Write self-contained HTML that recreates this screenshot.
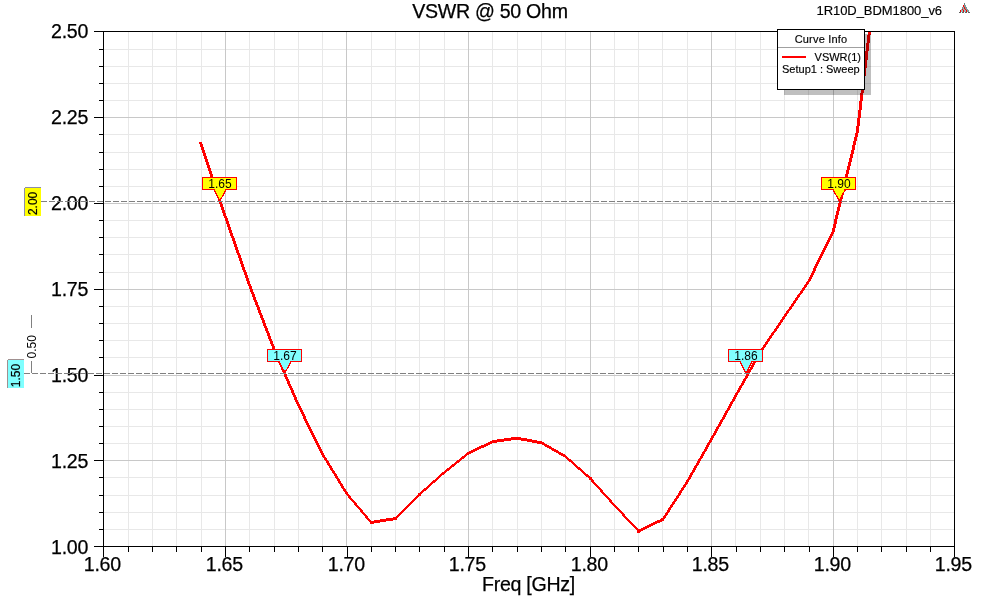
<!DOCTYPE html>
<html><head><meta charset="utf-8"><title>VSWR @ 50 Ohm</title>
<style>html,body{margin:0;padding:0;background:#fff;}body{width:982px;height:598px;overflow:hidden;font-family:"Liberation Sans",sans-serif;}svg{display:block;position:absolute;left:0;top:0;will-change:transform;}text{font-family:"Liberation Sans",sans-serif;}</style>
</head><body>
<svg width="982" height="598" viewBox="0 0 982 598">
<rect x="0" y="0" width="982" height="598" fill="#ffffff"/>
<defs><clipPath id="plotclip"><rect x="104" y="32" width="850" height="514"/></clipPath></defs>
<g shape-rendering="crispEdges">
<rect x="128" y="32" width="1" height="514" fill="#e8e8e8"/>
<rect x="152" y="32" width="1" height="514" fill="#e8e8e8"/>
<rect x="176" y="32" width="1" height="514" fill="#e8e8e8"/>
<rect x="201" y="32" width="1" height="514" fill="#e8e8e8"/>
<rect x="249" y="32" width="1" height="514" fill="#e8e8e8"/>
<rect x="274" y="32" width="1" height="514" fill="#e8e8e8"/>
<rect x="298" y="32" width="1" height="514" fill="#e8e8e8"/>
<rect x="322" y="32" width="1" height="514" fill="#e8e8e8"/>
<rect x="371" y="32" width="1" height="514" fill="#e8e8e8"/>
<rect x="395" y="32" width="1" height="514" fill="#e8e8e8"/>
<rect x="419" y="32" width="1" height="514" fill="#e8e8e8"/>
<rect x="444" y="32" width="1" height="514" fill="#e8e8e8"/>
<rect x="492" y="32" width="1" height="514" fill="#e8e8e8"/>
<rect x="517" y="32" width="1" height="514" fill="#e8e8e8"/>
<rect x="541" y="32" width="1" height="514" fill="#e8e8e8"/>
<rect x="565" y="32" width="1" height="514" fill="#e8e8e8"/>
<rect x="614" y="32" width="1" height="514" fill="#e8e8e8"/>
<rect x="638" y="32" width="1" height="514" fill="#e8e8e8"/>
<rect x="662" y="32" width="1" height="514" fill="#e8e8e8"/>
<rect x="687" y="32" width="1" height="514" fill="#e8e8e8"/>
<rect x="735" y="32" width="1" height="514" fill="#e8e8e8"/>
<rect x="760" y="32" width="1" height="514" fill="#e8e8e8"/>
<rect x="784" y="32" width="1" height="514" fill="#e8e8e8"/>
<rect x="808" y="32" width="1" height="514" fill="#e8e8e8"/>
<rect x="857" y="32" width="1" height="514" fill="#e8e8e8"/>
<rect x="881" y="32" width="1" height="514" fill="#e8e8e8"/>
<rect x="906" y="32" width="1" height="514" fill="#e8e8e8"/>
<rect x="930" y="32" width="1" height="514" fill="#e8e8e8"/>
<rect x="104" y="49" width="850" height="1" fill="#e8e8e8"/>
<rect x="104" y="66" width="850" height="1" fill="#e8e8e8"/>
<rect x="104" y="83" width="850" height="1" fill="#e8e8e8"/>
<rect x="104" y="100" width="850" height="1" fill="#e8e8e8"/>
<rect x="104" y="134" width="850" height="1" fill="#e8e8e8"/>
<rect x="104" y="152" width="850" height="1" fill="#e8e8e8"/>
<rect x="104" y="169" width="850" height="1" fill="#e8e8e8"/>
<rect x="104" y="186" width="850" height="1" fill="#e8e8e8"/>
<rect x="104" y="220" width="850" height="1" fill="#e8e8e8"/>
<rect x="104" y="237" width="850" height="1" fill="#e8e8e8"/>
<rect x="104" y="254" width="850" height="1" fill="#e8e8e8"/>
<rect x="104" y="272" width="850" height="1" fill="#e8e8e8"/>
<rect x="104" y="306" width="850" height="1" fill="#e8e8e8"/>
<rect x="104" y="323" width="850" height="1" fill="#e8e8e8"/>
<rect x="104" y="340" width="850" height="1" fill="#e8e8e8"/>
<rect x="104" y="357" width="850" height="1" fill="#e8e8e8"/>
<rect x="104" y="392" width="850" height="1" fill="#e8e8e8"/>
<rect x="104" y="409" width="850" height="1" fill="#e8e8e8"/>
<rect x="104" y="426" width="850" height="1" fill="#e8e8e8"/>
<rect x="104" y="443" width="850" height="1" fill="#e8e8e8"/>
<rect x="104" y="477" width="850" height="1" fill="#e8e8e8"/>
<rect x="104" y="495" width="850" height="1" fill="#e8e8e8"/>
<rect x="104" y="512" width="850" height="1" fill="#e8e8e8"/>
<rect x="104" y="529" width="850" height="1" fill="#e8e8e8"/>
<rect x="225" y="32" width="1" height="514" fill="#c8c8c8"/>
<rect x="346" y="32" width="1" height="514" fill="#c8c8c8"/>
<rect x="468" y="32" width="1" height="514" fill="#c8c8c8"/>
<rect x="590" y="32" width="1" height="514" fill="#c8c8c8"/>
<rect x="711" y="32" width="1" height="514" fill="#c8c8c8"/>
<rect x="833" y="32" width="1" height="514" fill="#c8c8c8"/>
<rect x="104" y="117" width="850" height="1" fill="#c8c8c8"/>
<rect x="104" y="203" width="850" height="1" fill="#c8c8c8"/>
<rect x="104" y="289" width="850" height="1" fill="#c8c8c8"/>
<rect x="104" y="375" width="850" height="1" fill="#c8c8c8"/>
<rect x="104" y="460" width="850" height="1" fill="#c8c8c8"/>
</g>
<g fill="#ff0000" shape-rendering="crispEdges" clip-path="url(#plotclip)">
<path d="M198.96 142.40L223.93 216.80L226.93 216.80L201.96 142.40Z"/>
<path d="M223.93 216.80L248.24 285.80L251.24 285.80L226.93 216.80Z"/>
<path d="M248.24 285.80L272.55 349.20L275.55 349.20L251.24 285.80Z"/>
<path d="M272.55 349.20L296.85 405.00L299.85 405.00L275.55 349.20Z"/>
<path d="M296.85 405.00L321.16 454.30L324.16 454.30L299.85 405.00Z"/>
<path d="M321.16 454.30L345.46 494.00L348.46 494.00L324.16 454.30Z"/>
<path d="M345.46 494.00L369.77 522.50L372.77 522.50L348.46 494.00Z"/>
<path d="M371.27 521.00L395.58 517.00L395.58 520.00L371.27 524.00Z"/>
<path d="M394.08 518.50L418.38 494.10L421.38 494.10L397.08 518.50Z"/>
<path d="M419.88 492.60L444.19 471.00L444.19 474.00L419.88 495.60Z"/>
<path d="M444.19 471.00L468.50 451.70L468.50 454.70L444.19 474.00Z"/>
<path d="M468.50 451.70L492.80 440.10L492.80 443.10L468.50 454.70Z"/>
<path d="M492.80 440.10L517.11 436.70L517.11 439.70L492.80 443.10Z"/>
<path d="M517.11 436.70L541.42 441.30L541.42 444.30L517.11 439.70Z"/>
<path d="M541.42 441.30L565.72 455.20L565.72 458.20L541.42 444.30Z"/>
<path d="M565.72 455.20L590.03 476.70L590.03 479.70L565.72 458.20Z"/>
<path d="M588.53 478.20L612.84 505.30L615.84 505.30L591.53 478.20Z"/>
<path d="M612.84 505.30L637.14 531.00L640.14 531.00L615.84 505.30Z"/>
<path d="M638.64 529.50L662.95 517.90L662.95 520.90L638.64 532.50Z"/>
<path d="M661.45 519.40L685.76 481.80L688.76 481.80L664.45 519.40Z"/>
<path d="M685.76 481.80L710.06 439.00L713.06 439.00L688.76 481.80Z"/>
<path d="M710.06 439.00L734.37 395.50L737.37 395.50L713.06 439.00Z"/>
<path d="M734.37 395.50L758.68 352.40L761.68 352.40L737.37 395.50Z"/>
<path d="M758.68 352.40L782.98 316.60L785.98 316.60L761.68 352.40Z"/>
<path d="M782.98 316.60L807.29 281.20L810.29 281.20L785.98 316.60Z"/>
<path d="M807.29 281.20L831.59 231.50L834.59 231.50L810.29 281.20Z"/>
<path d="M831.59 231.50L855.90 131.50L858.90 131.50L834.59 231.50Z"/>
<path d="M855.90 131.50L880.21 -71.00L883.21 -71.00L858.90 131.50Z"/>
<path d="M369.77 521.00h3v3h-3Z"/>
<path d="M394.08 517.00h3v3h-3Z"/>
<path d="M418.38 492.60h3v3h-3Z"/>
<path d="M588.53 476.70h3v3h-3Z"/>
<path d="M637.14 529.50h3v3h-3Z"/>
<path d="M661.45 517.90h3v3h-3Z"/>
</g>
<rect x="784" y="34" width="87" height="61" fill="#000" fill-opacity="0.25" shape-rendering="crispEdges"/>
<g shape-rendering="crispEdges" fill="#000">
<rect x="103" y="31" width="852" height="1"/>
<rect x="103" y="546" width="852" height="1"/>
<rect x="103" y="31" width="1" height="516"/>
<rect x="954" y="31" width="1" height="516"/>
<rect x="103" y="547" width="1" height="10"/>
<rect x="225" y="547" width="1" height="10"/>
<rect x="347" y="547" width="1" height="10"/>
<rect x="468" y="547" width="1" height="10"/>
<rect x="590" y="547" width="1" height="10"/>
<rect x="711" y="547" width="1" height="10"/>
<rect x="833" y="547" width="1" height="10"/>
<rect x="954" y="547" width="1" height="10"/>
<rect x="128" y="547" width="1" height="5"/>
<rect x="152" y="547" width="1" height="5"/>
<rect x="176" y="547" width="1" height="5"/>
<rect x="201" y="547" width="1" height="5"/>
<rect x="249" y="547" width="1" height="5"/>
<rect x="274" y="547" width="1" height="5"/>
<rect x="298" y="547" width="1" height="5"/>
<rect x="322" y="547" width="1" height="5"/>
<rect x="371" y="547" width="1" height="5"/>
<rect x="395" y="547" width="1" height="5"/>
<rect x="419" y="547" width="1" height="5"/>
<rect x="444" y="547" width="1" height="5"/>
<rect x="492" y="547" width="1" height="5"/>
<rect x="517" y="547" width="1" height="5"/>
<rect x="541" y="547" width="1" height="5"/>
<rect x="565" y="547" width="1" height="5"/>
<rect x="614" y="547" width="1" height="5"/>
<rect x="638" y="547" width="1" height="5"/>
<rect x="663" y="547" width="1" height="5"/>
<rect x="687" y="547" width="1" height="5"/>
<rect x="736" y="547" width="1" height="5"/>
<rect x="760" y="547" width="1" height="5"/>
<rect x="784" y="547" width="1" height="5"/>
<rect x="809" y="547" width="1" height="5"/>
<rect x="857" y="547" width="1" height="5"/>
<rect x="881" y="547" width="1" height="5"/>
<rect x="906" y="547" width="1" height="5"/>
<rect x="930" y="547" width="1" height="5"/>
<rect x="94" y="31" width="9" height="1"/>
<rect x="94" y="117" width="9" height="1"/>
<rect x="94" y="203" width="9" height="1"/>
<rect x="94" y="289" width="9" height="1"/>
<rect x="94" y="375" width="9" height="1"/>
<rect x="94" y="460" width="9" height="1"/>
<rect x="94" y="546" width="9" height="1"/>
<rect x="99" y="49" width="4" height="1"/>
<rect x="99" y="66" width="4" height="1"/>
<rect x="99" y="83" width="4" height="1"/>
<rect x="99" y="100" width="4" height="1"/>
<rect x="99" y="134" width="4" height="1"/>
<rect x="99" y="152" width="4" height="1"/>
<rect x="99" y="169" width="4" height="1"/>
<rect x="99" y="186" width="4" height="1"/>
<rect x="99" y="220" width="4" height="1"/>
<rect x="99" y="237" width="4" height="1"/>
<rect x="99" y="254" width="4" height="1"/>
<rect x="99" y="272" width="4" height="1"/>
<rect x="99" y="306" width="4" height="1"/>
<rect x="99" y="323" width="4" height="1"/>
<rect x="99" y="340" width="4" height="1"/>
<rect x="99" y="357" width="4" height="1"/>
<rect x="99" y="392" width="4" height="1"/>
<rect x="99" y="409" width="4" height="1"/>
<rect x="99" y="426" width="4" height="1"/>
<rect x="99" y="443" width="4" height="1"/>
<rect x="99" y="477" width="4" height="1"/>
<rect x="99" y="495" width="4" height="1"/>
<rect x="99" y="512" width="4" height="1"/>
<rect x="99" y="529" width="4" height="1"/>
</g>
<text x="88" y="37.6" font-size="19.6" letter-spacing="-0.3" stroke="#000" stroke-width="0.25" text-anchor="end" fill="#000">2.50</text>
<text x="88" y="123.6" font-size="19.6" letter-spacing="-0.3" stroke="#000" stroke-width="0.25" text-anchor="end" fill="#000">2.25</text>
<text x="88" y="209.6" font-size="19.6" letter-spacing="-0.3" stroke="#000" stroke-width="0.25" text-anchor="end" fill="#000">2.00</text>
<text x="88" y="295.6" font-size="19.6" letter-spacing="-0.3" stroke="#000" stroke-width="0.25" text-anchor="end" fill="#000">1.75</text>
<text x="88" y="381.6" font-size="19.6" letter-spacing="-0.3" stroke="#000" stroke-width="0.25" text-anchor="end" fill="#000">1.50</text>
<text x="88" y="467.6" font-size="19.6" letter-spacing="-0.3" stroke="#000" stroke-width="0.25" text-anchor="end" fill="#000">1.25</text>
<text x="88" y="553.6" font-size="19.6" letter-spacing="-0.3" stroke="#000" stroke-width="0.25" text-anchor="end" fill="#000">1.00</text>
<text x="102.3" y="571" font-size="19.6" letter-spacing="-0.3" stroke="#000" stroke-width="0.25" text-anchor="middle" fill="#000">1.60</text>
<text x="224.3" y="571" font-size="19.6" letter-spacing="-0.3" stroke="#000" stroke-width="0.25" text-anchor="middle" fill="#000">1.65</text>
<text x="346.3" y="571" font-size="19.6" letter-spacing="-0.3" stroke="#000" stroke-width="0.25" text-anchor="middle" fill="#000">1.70</text>
<text x="467.3" y="571" font-size="19.6" letter-spacing="-0.3" stroke="#000" stroke-width="0.25" text-anchor="middle" fill="#000">1.75</text>
<text x="589.3" y="571" font-size="19.6" letter-spacing="-0.3" stroke="#000" stroke-width="0.25" text-anchor="middle" fill="#000">1.80</text>
<text x="710.3" y="571" font-size="19.6" letter-spacing="-0.3" stroke="#000" stroke-width="0.25" text-anchor="middle" fill="#000">1.85</text>
<text x="832.3" y="571" font-size="19.6" letter-spacing="-0.3" stroke="#000" stroke-width="0.25" text-anchor="middle" fill="#000">1.90</text>
<text x="953.3" y="571" font-size="19.6" letter-spacing="-0.3" stroke="#000" stroke-width="0.25" text-anchor="middle" fill="#000">1.95</text>
<text x="528.5" y="590.6" font-size="19.6" letter-spacing="-0.3" stroke="#000" stroke-width="0.25" text-anchor="middle" fill="#000">Freq [GHz]</text>
<text x="490" y="17.8" font-size="19.6" letter-spacing="-0.3" stroke="#000" stroke-width="0.25" text-anchor="middle" fill="#000">VSWR @ 50 Ohm</text>
<text x="816.5" y="15.2" font-size="13" letter-spacing="-0.06" stroke="#000" stroke-width="0.15" fill="#000">1R10D_BDM1800_v6</text>
<g shape-rendering="crispEdges">
<rect x="964" y="3" width="1" height="2" fill="#707878"/>
<rect x="963" y="5" width="1" height="2" fill="#ff0000"/>
<rect x="964" y="5" width="2" height="2" fill="#7f9c9c"/>
<rect x="962" y="7" width="1" height="2" fill="#808888"/>
<rect x="963" y="7" width="1" height="2" fill="#8fb4b4"/>
<rect x="964" y="7" width="1" height="2" fill="#ff0000"/>
<rect x="965" y="7" width="2" height="2" fill="#7f9898"/>
<rect x="961" y="9" width="1" height="1" fill="#9cc4c4"/>
<rect x="962" y="9" width="1" height="1" fill="#ff0000"/>
<rect x="963" y="9" width="2" height="1" fill="#8fb4b4"/>
<rect x="965" y="9" width="1" height="1" fill="#ff0000"/>
<rect x="966" y="9" width="2" height="1" fill="#7f9898"/>
<rect x="960" y="10" width="1" height="2" fill="#ff0000"/>
<rect x="961" y="10" width="2" height="2" fill="#8fb8b8"/>
<rect x="963" y="10" width="1" height="2" fill="#ff0000"/>
<rect x="964" y="10" width="2" height="2" fill="#8fb8b8"/>
<rect x="966" y="10" width="1" height="2" fill="#ff0000"/>
<rect x="967" y="10" width="2" height="2" fill="#7f9898"/>
<rect x="959" y="12" width="2" height="1" fill="#606060"/>
<rect x="962" y="12" width="2" height="1" fill="#606060"/>
<rect x="965" y="12" width="2" height="1" fill="#606060"/>
<rect x="968" y="12" width="2" height="1" fill="#606060"/>
</g>
<g shape-rendering="crispEdges">
<rect x="25" y="188" width="16" height="28" fill="#ffff00"/>
<rect x="24" y="188" width="1" height="28" fill="#8c8ca8"/>
<rect x="25" y="187" width="16" height="1" fill="#8c8ca8"/>
<rect x="8" y="360" width="16" height="28" fill="#80ffff"/>
<rect x="7" y="360" width="1" height="28" fill="#a09090"/>
<rect x="8" y="359" width="16" height="1" fill="#a09090"/>
<rect x="31" y="315" width="1" height="13" fill="#808080"/>
<rect x="31" y="361" width="1" height="12" fill="#808080"/>
</g>
<text transform="translate(37,215.1) rotate(-90)" font-size="12" stroke="#000" stroke-width="0.2" fill="#000">2.00</text>
<text transform="translate(20.3,387.2) rotate(-90)" font-size="12" stroke="#000" stroke-width="0.2" fill="#000">1.50</text>
<text transform="translate(35.8,358.4) rotate(-90)" font-size="12" fill="#000">0.50</text>
<path d="M213.8 189.5L220 200.7L226.2 189.5Z" fill="#ffff00" stroke="#ff0000" stroke-width="1.25" shape-rendering="crispEdges"/>
<rect x="202.5" y="177.5" width="34" height="12" fill="#ffff00" stroke="#ff0000" stroke-width="1" shape-rendering="crispEdges"/>
<rect x="215" y="189" width="10" height="1" fill="#ffff00" shape-rendering="crispEdges"/>
<text x="219.9" y="187.7" font-size="12" text-anchor="middle" fill="#000">1.65</text>
<path d="M833.0 189.5L839.2 200.7L845.4000000000001 189.5Z" fill="#ffff00" stroke="#ff0000" stroke-width="1.25" shape-rendering="crispEdges"/>
<rect x="821.5" y="177.5" width="34" height="12" fill="#ffff00" stroke="#ff0000" stroke-width="1" shape-rendering="crispEdges"/>
<rect x="834.2" y="189" width="10" height="1" fill="#ffff00" shape-rendering="crispEdges"/>
<text x="838.9" y="187.7" font-size="12" text-anchor="middle" fill="#000">1.90</text>
<path d="M278.8 361.5L285 372.5L291.2 361.5Z" fill="#80ffff" stroke="#ff0000" stroke-width="1.25" shape-rendering="crispEdges"/>
<rect x="267.5" y="349.5" width="34" height="12" fill="#80ffff" stroke="#ff0000" stroke-width="1" shape-rendering="crispEdges"/>
<rect x="280" y="361" width="10" height="1" fill="#80ffff" shape-rendering="crispEdges"/>
<text x="284.9" y="359.7" font-size="12" text-anchor="middle" fill="#000">1.67</text>
<path d="M739.8 361.5L746 373L752.2 361.5Z" fill="#80ffff" stroke="#ff0000" stroke-width="1.25" shape-rendering="crispEdges"/>
<rect x="728.5" y="349.5" width="34" height="12" fill="#80ffff" stroke="#ff0000" stroke-width="1" shape-rendering="crispEdges"/>
<rect x="741" y="361" width="10" height="1" fill="#80ffff" shape-rendering="crispEdges"/>
<text x="745.9" y="359.7" font-size="12" text-anchor="middle" fill="#000">1.86</text>
<path d="M41 201.5H47M49 201.5H55M57 201.5H63M65 201.5H71M73 201.5H79M81 201.5H87M89 201.5H95M97 201.5H103M105 201.5H111M113 201.5H119M121 201.5H127M129 201.5H135M137 201.5H143M145 201.5H151M153 201.5H159M161 201.5H167M169 201.5H175M177 201.5H183M185 201.5H191M193 201.5H199M201 201.5H207M209 201.5H215M217 201.5H223M225 201.5H231M233 201.5H239M241 201.5H247M249 201.5H255M257 201.5H263M265 201.5H271M273 201.5H279M281 201.5H287M289 201.5H295M297 201.5H303M305 201.5H311M313 201.5H319M321 201.5H327M329 201.5H335M337 201.5H343M345 201.5H351M353 201.5H359M361 201.5H367M369 201.5H375M377 201.5H383M385 201.5H391M393 201.5H399M401 201.5H407M409 201.5H415M417 201.5H423M425 201.5H431M433 201.5H439M441 201.5H447M449 201.5H455M457 201.5H463M465 201.5H471M473 201.5H479M481 201.5H487M489 201.5H495M497 201.5H503M505 201.5H511M513 201.5H519M521 201.5H527M529 201.5H535M537 201.5H543M545 201.5H551M553 201.5H559M561 201.5H567M569 201.5H575M577 201.5H583M585 201.5H591M593 201.5H599M601 201.5H607M609 201.5H615M617 201.5H623M625 201.5H631M633 201.5H639M641 201.5H647M649 201.5H655M657 201.5H663M665 201.5H671M673 201.5H679M681 201.5H687M689 201.5H695M697 201.5H703M705 201.5H711M713 201.5H719M721 201.5H727M729 201.5H735M737 201.5H743M745 201.5H751M753 201.5H759M761 201.5H767M769 201.5H775M777 201.5H783M785 201.5H791M793 201.5H799M801 201.5H807M809 201.5H815M817 201.5H823M825 201.5H831M833 201.5H839M841 201.5H847M849 201.5H855M857 201.5H863M865 201.5H871M873 201.5H879M881 201.5H887M889 201.5H895M897 201.5H903M905 201.5H911M913 201.5H919M921 201.5H927M929 201.5H935M937 201.5H943M945 201.5H951M953 201.5H954" stroke="#808080" stroke-width="1" fill="none" shape-rendering="crispEdges"/>
<path d="M24 373.5H30M32 373.5H38M40 373.5H46M48 373.5H54M56 373.5H62M64 373.5H70M72 373.5H78M80 373.5H86M88 373.5H94M96 373.5H102M104 373.5H110M112 373.5H118M120 373.5H126M128 373.5H134M136 373.5H142M144 373.5H150M152 373.5H158M160 373.5H166M168 373.5H174M176 373.5H182M184 373.5H190M192 373.5H198M200 373.5H206M208 373.5H214M216 373.5H222M224 373.5H230M232 373.5H238M240 373.5H246M248 373.5H254M256 373.5H262M264 373.5H270M272 373.5H278M280 373.5H286M288 373.5H294M296 373.5H302M304 373.5H310M312 373.5H318M320 373.5H326M328 373.5H334M336 373.5H342M344 373.5H350M352 373.5H358M360 373.5H366M368 373.5H374M376 373.5H382M384 373.5H390M392 373.5H398M400 373.5H406M408 373.5H414M416 373.5H422M424 373.5H430M432 373.5H438M440 373.5H446M448 373.5H454M456 373.5H462M464 373.5H470M472 373.5H478M480 373.5H486M488 373.5H494M496 373.5H502M504 373.5H510M512 373.5H518M520 373.5H526M528 373.5H534M536 373.5H542M544 373.5H550M552 373.5H558M560 373.5H566M568 373.5H574M576 373.5H582M584 373.5H590M592 373.5H598M600 373.5H606M608 373.5H614M616 373.5H622M624 373.5H630M632 373.5H638M640 373.5H646M648 373.5H654M656 373.5H662M664 373.5H670M672 373.5H678M680 373.5H686M688 373.5H694M696 373.5H702M704 373.5H710M712 373.5H718M720 373.5H726M728 373.5H734M736 373.5H742M744 373.5H750M752 373.5H758M760 373.5H766M768 373.5H774M776 373.5H782M784 373.5H790M792 373.5H798M800 373.5H806M808 373.5H814M816 373.5H822M824 373.5H830M832 373.5H838M840 373.5H846M848 373.5H854M856 373.5H862M864 373.5H870M872 373.5H878M880 373.5H886M888 373.5H894M896 373.5H902M904 373.5H910M912 373.5H918M920 373.5H926M928 373.5H934M936 373.5H942M944 373.5H950M952 373.5H954" stroke="#808080" stroke-width="1" fill="none" shape-rendering="crispEdges"/>
<rect x="777.5" y="29.5" width="87" height="60" fill="#ffffff" stroke="#000" stroke-width="1" shape-rendering="crispEdges"/>
<rect x="778" y="47" width="86" height="1" fill="#a0a0a0" shape-rendering="crispEdges"/>
<text x="821" y="43" font-size="11" letter-spacing="0.2" stroke="#000" stroke-width="0.15" text-anchor="middle" fill="#000">Curve Info</text>
<rect x="782" y="56" width="24" height="2" fill="#ff0000" shape-rendering="crispEdges"/>
<text x="861" y="61" font-size="11" stroke="#000" stroke-width="0.15" text-anchor="end" fill="#000">VSWR(1)</text>
<text x="782" y="72.5" font-size="11" stroke="#000" stroke-width="0.15" fill="#000">Setup1 : Sweep</text>
</svg>
</body></html>
